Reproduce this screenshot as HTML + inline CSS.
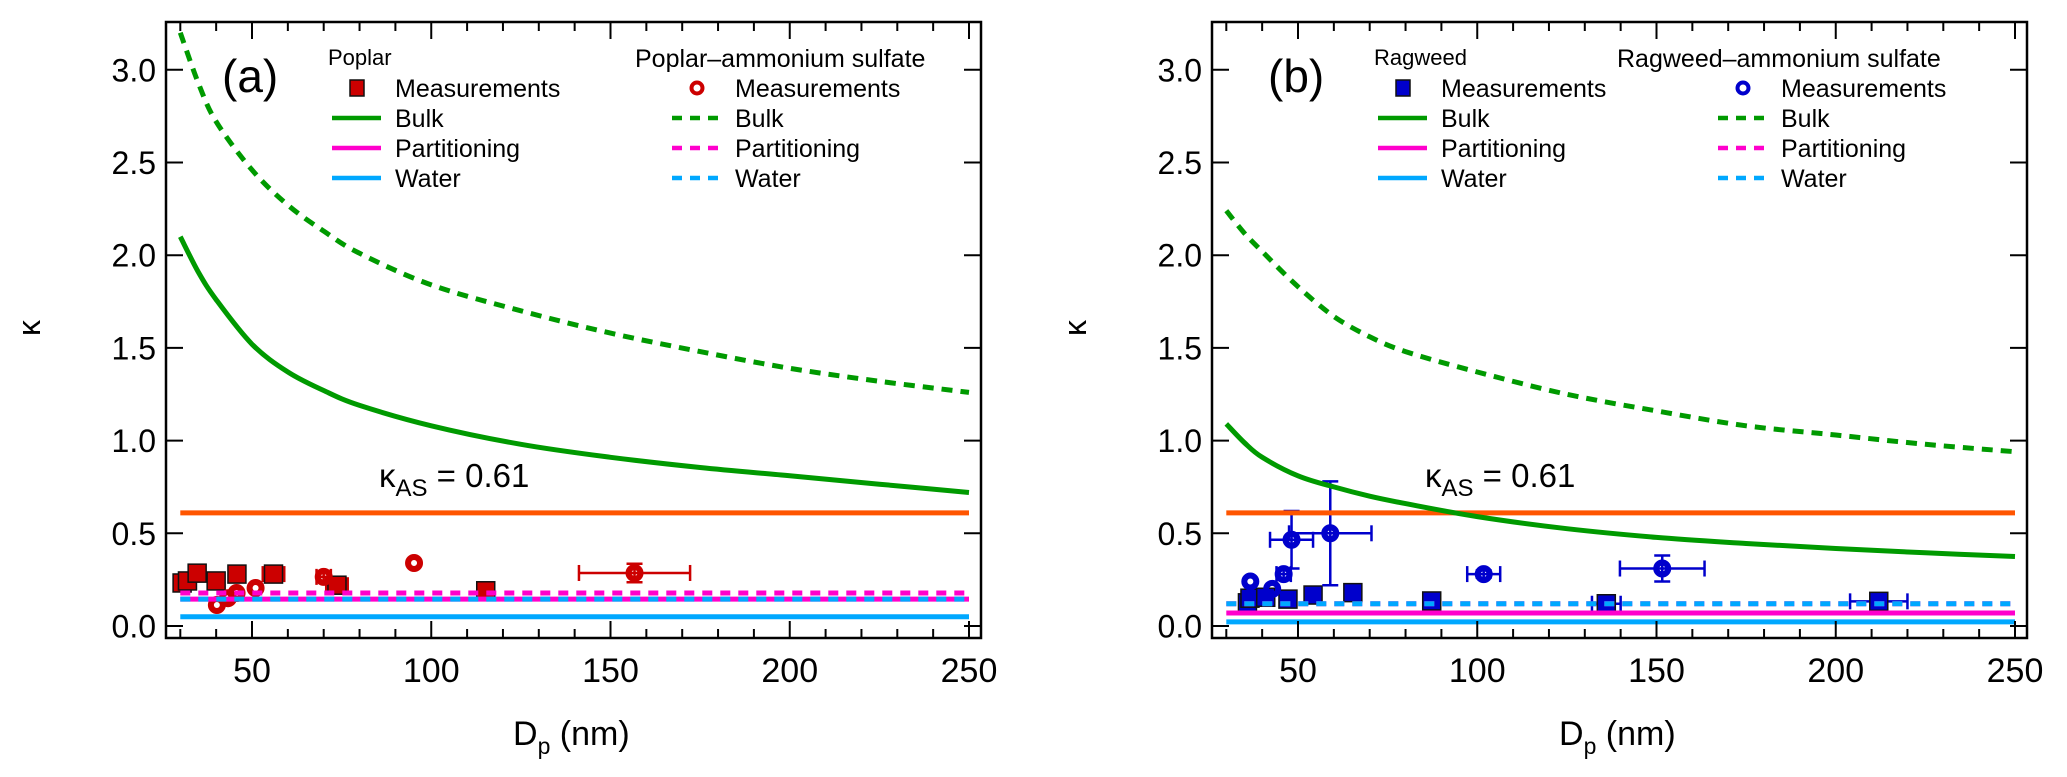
<!DOCTYPE html>
<html><head><meta charset="utf-8"><style>
html,body{margin:0;padding:0;background:#fff;}
svg{display:block;font-family:"Liberation Sans",sans-serif;}
</style></head><body>
<svg id="fig" width="2067" height="777" viewBox="0 0 2067 777" xmlns="http://www.w3.org/2000/svg"></svg>
<script>
// ---- data (Dp in nm, kappa) ----
const curveD = [30,35,40,50,60,70,80,100,125,150,175,200,225,250];
const bulkA = [2.10,1.91,1.76,1.52,1.37,1.27,1.19,1.08,0.98,0.91,0.855,0.81,0.765,0.72];
const bulkAS_A = [3.20,2.93,2.72,2.46,2.27,2.13,2.01,1.84,1.70,1.58,1.48,1.39,1.32,1.26];
const bulkB = [1.09,0.99,0.91,0.81,0.75,0.70,0.66,0.59,0.525,0.478,0.445,0.418,0.395,0.375];
const bulkAS_B = [2.24,2.12,2.02,1.83,1.67,1.56,1.48,1.37,1.25,1.16,1.08,1.03,0.98,0.94];
const kappaAS = 0.61;
const waterA = 0.05, waterAS_A = 0.145, partA = 0.145, partAS_A = 0.178;
const waterB = 0.022, partB = 0.07, waterAS_B = 0.12, partAS_B = 0.12;
// poplar squares
const popD = [30.5,32,34.7,40,45.8,56,73.7,115.2];
const popK = [0.232,0.243,0.285,0.243,0.28,0.28,0.22,0.19];
const popDx = [0,0,0,0,0,3,3,2];
const popDk = [0,0,0,0,0,0.04,0,0];
// poplar-AS circles
const popAsD = [40.2,43.3,45.7,51,70,95.2,156.7];
const popAsK = [0.113,0.15,0.178,0.205,0.265,0.34,0.286];
const popAsDx = [0,0,0,0,2,0,15.5];
const popAsDk = [0,0,0,0,0.02,0,0.05];
// ragweed squares
const ragD = [35.9,36.6,41,47.2,54.2,65.3,87.3,136,212];
const ragK = [0.125,0.15,0.155,0.145,0.167,0.18,0.135,0.12,0.133];
const ragDx = [0,0,0,0,0,0,0,4,8];
// ragweed-AS circles
const ragAsD = [36.7,42.8,46,48.2,59,101.8,151.6];
const ragAsK = [0.24,0.2,0.28,0.465,0.50,0.28,0.31];
const ragAsDx = [0,0,2,6,11.5,4.6,11.8];
const ragAsDk = [0,0,0.03,0.155,0.28,0.02,0.07];
const xTicks = [50,100,150,200,250];
const yTicks = [0.0,0.5,1.0,1.5,2.0,2.5,3.0];
const yTickLabels = ["0.0","0.5","1.0","1.5","2.0","2.5","3.0"];

const NS="http://www.w3.org/2000/svg";
const svg=document.getElementById('fig');
function el(tag,attrs,parent){const e=document.createElementNS(NS,tag);for(const k in attrs)e.setAttribute(k,attrs[k]);(parent||svg).appendChild(e);return e;}

const GREEN="#009a00",ORANGE="#ff5500",PINK="#ff00cc",CYAN="#00a8ff";

function smoothPath(pts){
  let d='M'+pts[0][0].toFixed(1)+','+pts[0][1].toFixed(1);
  for(let i=0;i<pts.length-1;i++){
    const p0=pts[Math.max(0,i-1)],p1=pts[i],p2=pts[i+1],p3=pts[Math.min(pts.length-1,i+2)];
    const c1=[p1[0]+(p2[0]-p0[0])/6,p1[1]+(p2[1]-p0[1])/6];
    const c2=[p2[0]-(p3[0]-p1[0])/6,p2[1]-(p3[1]-p1[1])/6];
    d+=' C'+c1.map(v=>v.toFixed(1)).join(',')+' '+c2.map(v=>v.toFixed(1)).join(',')+' '+p2[0].toFixed(1)+','+p2[1].toFixed(1);
  }
  return d;
}

function panel(off, o){
  const X=v=>252+off+(v-50)*3.585;
  const Y=v=>626-v*185.4;
  const L=166+off,R=981+off,T=22,B=638;
  const g=el('g',{});
  
  
  function err(x,y,dx,dk,color){
    if(dx>0){el('line',{x1:X(x-dx),x2:X(x+dx),y1:Y(y),y2:Y(y),stroke:color,'stroke-width':2.5},g);
      [x-dx,x+dx].forEach(v=>el('line',{x1:X(v),x2:X(v),y1:Y(y)-8,y2:Y(y)+8,stroke:color,'stroke-width':2.5},g));}
    if(dk>0){el('line',{x1:X(x),x2:X(x),y1:Y(y-dk),y2:Y(y+dk),stroke:color,'stroke-width':2.5},g);
      [y-dk,y+dk].forEach(v=>el('line',{x1:X(x)-8,x2:X(x)+8,y1:Y(v),y2:Y(v),stroke:color,'stroke-width':2.5},g));}
  }
  o.sqD.forEach((d,i)=>{
    err(d,o.sqK[i],o.sqDx[i],o.sqDk?o.sqDk[i]:0,o.color);
    const r=el('rect',{x:X(d)-9,y:Y(o.sqK[i])-9,width:18,height:18,fill:o.color,stroke:'#111','stroke-width':1.5},g);
    
    
  });
  o.ciD.forEach((d,i)=>{
    err(d,o.ciK[i],o.ciDx[i],o.ciDk[i],o.color);
    const c=el('circle',{cx:X(d),cy:Y(o.ciK[i]),r:6,fill:'none',stroke:o.color,'stroke-width':6},g);
    
    
  });
  function hline(v,color,dash,name){const l=el('line',{x1:X(30),x2:X(250),y1:Y(v),y2:Y(v),stroke:color,'stroke-width':5,'stroke-dasharray':dash?'10 8':'none'},g);
    
    }
  hline(o.water,CYAN,false,'water-line');
  hline(o.part,PINK,false,'partitioning-line');
  hline(o.partAS,PINK,true,'partitioning-as-line');
  hline(o.waterAS,CYAN,true,'water-as-line');
  hline(kappaAS,ORANGE,false,'kappa-as-line');
  function curve(arr,dash,name){const pts=curveD.map((v,i)=>[X(v),Y(arr[i])]);
    const p=el('path',{d:smoothPath(pts),fill:'none',stroke:GREEN,'stroke-width':5,'stroke-dasharray':dash?'11 8':'none','stroke-linejoin':'round'},g);
    
    }
  curve(o.bulk,false,'bulk-line');
  curve(o.bulkAS,true,'bulk-as-line');
  const f=el('rect',{x:L,y:T,width:R-L,height:B-T,fill:'none',stroke:'#000','stroke-width':2.5},g);
  
  
  for(let v=30;v<=250;v+=10){const maj=v%50===0;const len=maj?17:9;
    el('line',{x1:X(v),x2:X(v),y1:B,y2:B-len,stroke:'#000','stroke-width':2},g);
    el('line',{x1:X(v),x2:X(v),y1:T,y2:T+len,stroke:'#000','stroke-width':2},g);}
  xTicks.forEach(v=>{const t=el('text',{x:X(v),y:682,'font-size':34,'text-anchor':'middle'},g);t.textContent=v;
    
    });
  yTicks.forEach((v,i)=>{
    el('line',{x1:L,x2:L+17,y1:Y(v),y2:Y(v),stroke:'#000','stroke-width':2},g);
    el('line',{x1:R,x2:R-17,y1:Y(v),y2:Y(v),stroke:'#000','stroke-width':2},g);
    const t=el('text',{x:L-10,y:Y(v)+11.5,'font-size':32,'text-anchor':'end'},g);t.textContent=yTickLabels[i];
    
    });
  const xt=el('text',{x:513+off,y:745,'font-size':34},g);
  xt.innerHTML='D<tspan font-size="23" dy="9">p</tspan><tspan dy="-9"> (nm)</tspan>';
  
  
  const yt=el('text',{x:0,y:0,'font-size':32,'text-anchor':'middle',transform:`translate(${40+off},328) rotate(-90)`},g);
  yt.textContent='κ';
  
  
  const pl=el('text',{x:222+off,y:92,'font-size':46},g);pl.textContent=o.label;
  
  
  const ka=el('text',{x:379+off,y:487,'font-size':33},g);
  ka.innerHTML='κ<tspan font-size="24" dy="9">AS</tspan><tspan dy="-9"> = 0.61</tspan>';
  
  
  const rows=[88,118,148,178];
  function legend(tx,title,mx,lx1,lx2,txt,isAS){
    const lg=el('g',{},g);
    
    
    const tt=el('text',{x:tx,y:isAS?67:65,'font-size':isAS?25:22},lg);tt.textContent=title;
    if(isAS) el('circle',{cx:mx,cy:rows[0],r:5.5,fill:'none',stroke:o.color,'stroke-width':4},lg);
    else el('rect',{x:mx-7,y:rows[0]-8,width:14,height:16,fill:o.color,stroke:'#111','stroke-width':1.5},lg);
    [GREEN,PINK,CYAN].forEach((c,i)=>el('line',{x1:lx1,x2:lx2,y1:rows[i+1],y2:rows[i+1],stroke:c,'stroke-width':4.5,'stroke-dasharray':isAS?'10 8':'none'},lg));
    ['Measurements','Bulk','Partitioning','Water'].forEach((s,i)=>{const t=el('text',{x:txt,y:rows[i]+9,'font-size':25},lg);t.textContent=s;});
  }
  legend(328+off,o.name1,357+off,332+off,381+off,395+off,false);
  legend(o.asTitleX,o.name2,697+off,672+off,720+off,735+off,true);
}
panel(0,{name:'panel-a-poplar',label:'(a)',color:'#cc0000',name1:'Poplar',name2:'Poplar–ammonium sulfate',asTitleX:635,
  sqD:popD,sqK:popK,sqDx:popDx,sqDk:popDk,ciD:popAsD,ciK:popAsK,ciDx:popAsDx,ciDk:popAsDk,
  bulk:bulkA,bulkAS:bulkAS_A,water:waterA,waterAS:waterAS_A,part:partA,partAS:partAS_A});
panel(1046,{name:'panel-b-ragweed',label:'(b)',color:'#0000cc',name1:'Ragweed',name2:'Ragweed–ammonium sulfate',asTitleX:1617,
  sqD:ragD,sqK:ragK,sqDx:ragDx,sqDk:null,ciD:ragAsD,ciK:ragAsK,ciDx:ragAsDx,ciDk:ragAsDk,
  bulk:bulkB,bulkAS:bulkAS_B,water:waterB,waterAS:waterAS_B,part:partB,partAS:partAS_B});
</script>
</body></html>
